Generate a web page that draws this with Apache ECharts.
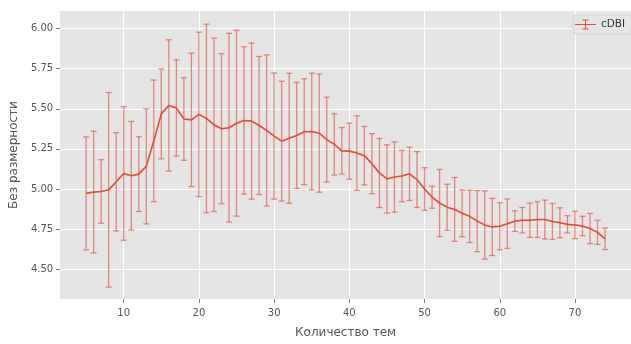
<!DOCTYPE html>
<html><head><meta charset="utf-8">
<script src="https://cdn.jsdelivr.net/npm/echarts@6/dist/echarts.min.js"></script>
<style>html,body{margin:0;padding:0;background:#fff}#c{width:631px;height:344px}</style>
</head><body><div id="c"></div>
<script>
const topics = [5,6,7,8,9,10,11,12,13,14,15,16,17,18,19,20,21,22,23,24,25,26,27,28,29,30,31,32,33,34,35,36,37,38,39,40,41,42,43,44,45,46,47,48,49,50,51,52,53,54,55,56,57,58,59,60,61,62,63,64,65,66,67,68,69,70,71,72,73,74];
const cdbiMean = [4.973,4.981,4.985,4.995,5.045,5.097,5.083,5.093,5.141,5.300,5.468,5.521,5.505,5.436,5.431,5.465,5.440,5.400,5.376,5.382,5.410,5.427,5.423,5.396,5.365,5.330,5.298,5.316,5.334,5.357,5.358,5.348,5.308,5.278,5.238,5.236,5.224,5.208,5.158,5.100,5.063,5.075,5.081,5.095,5.059,5.000,4.949,4.913,4.887,4.873,4.849,4.830,4.800,4.776,4.764,4.768,4.784,4.800,4.806,4.806,4.810,4.810,4.798,4.790,4.780,4.776,4.770,4.754,4.730,4.690];
const cdbiErr = [0.352,0.379,0.198,0.606,0.306,0.416,0.338,0.233,0.358,0.379,0.280,0.409,0.300,0.257,0.415,0.512,0.587,0.540,0.467,0.588,0.579,0.459,0.486,0.430,0.471,0.393,0.373,0.405,0.330,0.330,0.363,0.368,0.264,0.191,0.145,0.175,0.232,0.182,0.187,0.215,0.213,0.219,0.160,0.166,0.174,0.133,0.069,0.209,0.143,0.199,0.146,0.163,0.190,0.212,0.178,0.147,0.154,0.064,0.079,0.107,0.112,0.121,0.112,0.093,0.054,0.085,0.060,0.094,0.075,0.067];
const xTicks = [10,20,30,40,50,60,70];
const yTicks = [4.50,4.75,5.00,5.25,5.50,5.75,6.00];

const RED = '#E24A33';
const BAR = 'rgba(226,74,51,0.62)';
const lineData = topics.map((t,i)=>[t,cdbiMean[i]]);
const errData = topics.map((t,i)=>[t,cdbiMean[i]-cdbiErr[i],cdbiMean[i]+cdbiErr[i]]);

const chart = echarts.init(document.getElementById('c'), null, {renderer:'canvas'});
chart.setOption({
  animation:false,
  backgroundColor:'#ffffff',
  textStyle:{fontFamily:'DejaVu Sans'},
  grid:{left:57, top:11, width:577.5, height:300.7, show:true, backgroundColor:'#E5E5E5', borderWidth:0},
  legend:{
    left:573, top:15, padding:[4,6,4,2], itemWidth:21, itemHeight:10, itemGap:4,
    backgroundColor:'#E5E5E5', borderColor:'#D4D4D4', borderWidth:1, borderRadius:2,
    textStyle:{fontFamily:'DejaVu Sans', fontSize:10.5, color:'#333'},
    data:[{name:'cDBI', icon:'path://M0,4.5H21V5.5H0Z M10,0H11V10H10Z M7.5,0H13.5V1H7.5Z M7.5,9H13.5V10H7.5Z'}]
  },
  xAxis:{
    type:'value', min:1.55, max:77.45,
    name:'Количество тем', nameLocation:'middle', nameGap:28,
    nameTextStyle:{fontFamily:'DejaVu Sans', fontSize:12, color:'#555555'},
    axisLine:{show:false},
    axisTick:{show:true, length:4, lineStyle:{color:'#555555', width:0.8}, customValues:xTicks},
    axisLabel:{customValues:xTicks, color:'#555555', fontSize:10, margin:9, fontFamily:'DejaVu Sans'},
    splitLine:{show:true, lineStyle:{color:'#ffffff', width:1}}
  },
  yAxis:{
    type:'value', min:4.315, max:6.109,
    name:'Без размерности', nameLocation:'middle', nameGap:35,
    nameTextStyle:{fontFamily:'DejaVu Sans', fontSize:12, color:'#555555'},
    axisLine:{show:false},
    axisTick:{show:true, length:4, lineStyle:{color:'#555555', width:0.8}, customValues:yTicks},
    axisLabel:{customValues:yTicks, color:'#555555', fontSize:10, margin:7, fontFamily:'DejaVu Sans',
      formatter:v=>v.toFixed(2)},
    splitLine:{show:true, lineStyle:{color:'#ffffff', width:1}}
  },
  series:[
    {
      type:'custom', name:'cDBIerr', data:errData, z:2, silent:true,
      encode:{x:0, y:[1,2]},
      renderItem:function(params, api){
        const x = api.value(0);
        const lo = api.coord([x, api.value(1)]);
        const hi = api.coord([x, api.value(2)]);
        const cw = 3;
        const st = {stroke:BAR, lineWidth:1.3, fill:null};
        return {type:'group', children:[
          {type:'line', shape:{x1:lo[0],y1:lo[1],x2:hi[0],y2:hi[1]}, style:st},
          {type:'line', shape:{x1:lo[0]-cw,y1:lo[1],x2:lo[0]+cw,y2:lo[1]}, style:st},
          {type:'line', shape:{x1:hi[0]-cw,y1:hi[1],x2:hi[0]+cw,y2:hi[1]}, style:st}
        ]};
      }
    },
    {
      type:'line', name:'cDBI', data:lineData, z:3, showSymbol:false, symbol:'none',
      itemStyle:{color:RED}, lineStyle:{color:RED, width:1.6}
    }
  ]
});
</script></body></html>
